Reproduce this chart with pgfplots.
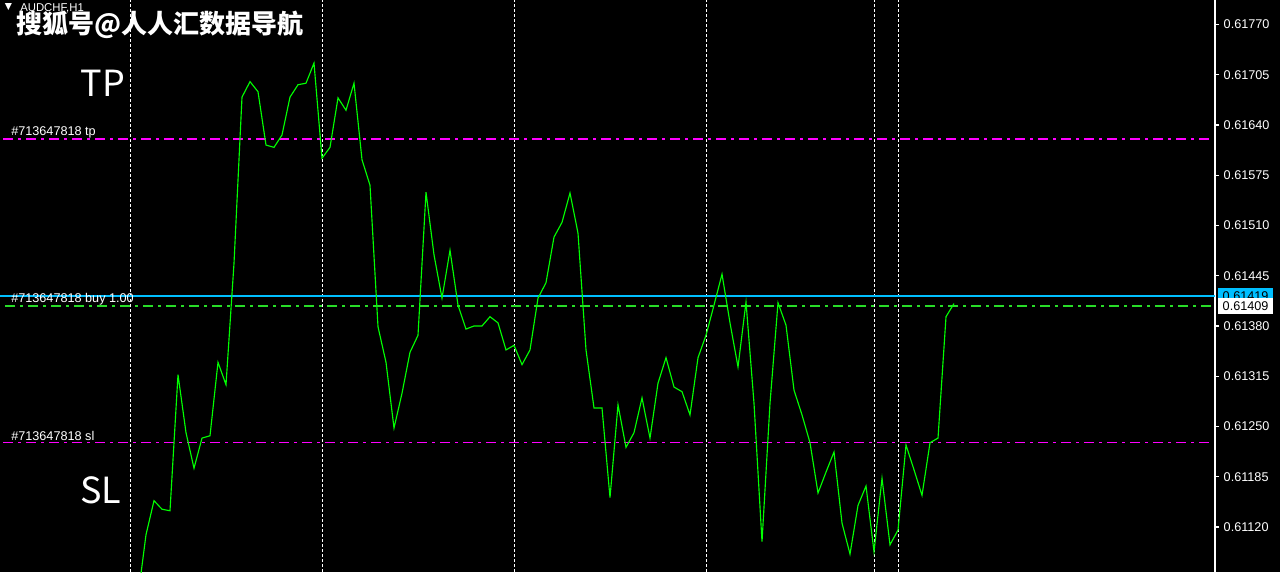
\documentclass[border=0pt]{standalone}
\usepackage{pgfplots}
\pgfplotsset{compat=1.18}
\usepackage{fontspec}
\setmainfont{Liberation Sans}
\newfontfamily\cjk{Noto Sans CJK SC}
\newfontfamily\dejavu{DejaVu Sans}
\definecolor{mtgreen}{RGB}{0,255,0}
\definecolor{tpmag}{RGB}{255,0,255}
\definecolor{askblue}{RGB}{0,191,255}
\definecolor{bidgreen}{RGB}{40,220,40}
\begin{document}
\begin{tikzpicture}
\useasboundingbox (0,0) rectangle (960pt,429pt);
\fill[black] (0,0) rectangle (960pt,429pt);
\begin{axis}[
  scale only axis, width=911.25pt, height=429pt,
  at={(0,0)}, anchor=south west,
  xmin=0, xmax=1215, ymin=0.610618, ymax=0.618016,
  axis x line=none, axis y line=right,
  axis line style={-},
  y axis line style={-, white, line width=0.9pt},
  ytick={0.61120,0.61185,0.61250,0.61315,0.61380,0.61445,0.61510,0.61575,0.61640,0.61705,0.61770},
  yticklabel style={text=white, font=\fontsize{9.5}{10}\selectfont,
    /pgf/number format/fixed, /pgf/number format/fixed zerofill,
    /pgf/number format/precision=5, /pgf/number format/assume math mode=true},
  ytick style={white, line width=0.9pt},
  ytick align=outside, major tick length=3pt,
  clip mode=individual,
]
% period separators
\addplot[white, line width=0.75pt, dash pattern=on 2.25pt off 1.5pt] coordinates {(130,0.610618) (130,0.618016)};
\addplot[white, line width=0.75pt, dash pattern=on 2.25pt off 1.5pt] coordinates {(322,0.610618) (322,0.618016)};
\addplot[white, line width=0.75pt, dash pattern=on 2.25pt off 1.5pt] coordinates {(514,0.610618) (514,0.618016)};
\addplot[white, line width=0.75pt, dash pattern=on 2.25pt off 1.5pt] coordinates {(706,0.610618) (706,0.618016)};
\addplot[white, line width=0.75pt, dash pattern=on 2.25pt off 1.5pt] coordinates {(874,0.610618) (874,0.618016)};
\addplot[white, line width=0.75pt, dash pattern=on 2.25pt off 1.5pt] coordinates {(898,0.610618) (898,0.618016)};
% order lines
\addplot[tpmag, line width=1pt, dash pattern=on 7.5pt off 3.75pt on 2.25pt off 3.75pt] coordinates {(3,0.61622) (1212,0.61622)};
\addplot[tpmag, line width=1pt, dash pattern=on 7.5pt off 3.75pt on 2.25pt off 3.75pt] coordinates {(3,0.61229) (1212,0.61229)};
\addplot[askblue, line width=1.1pt] coordinates {(0,0.61419) (1215,0.61419)};
\addplot[bidgreen, line width=1.1pt, dash pattern=on 7.5pt off 3.75pt on 2.25pt off 3.75pt] coordinates {(5,0.61406) (1212,0.61406)};
% price line
\addplot[mtgreen, line width=0.85pt] coordinates {
(140,0.61050) (146,0.61110) (154,0.61154) (162,0.61143) (170,0.61141) (178,0.61317)
(186,0.61242) (194,0.61196) (202,0.61235) (210,0.61238) (218,0.61333) (226,0.61304)
(234,0.61461) (242,0.61676) (250,0.61696) (258,0.61683) (266,0.61614) (274,0.61611)
(282,0.61627) (290,0.61676) (298,0.61692) (306,0.61694) (314,0.61720) (322,0.61597)
(330,0.61611) (338,0.61675) (346,0.61659) (354,0.61694) (362,0.61595) (370,0.61562)
(378,0.61379) (386,0.61333) (394,0.61248) (402,0.61293) (410,0.61346) (418,0.61368)
(426,0.61553) (434,0.61472) (442,0.61416) (450,0.61478) (458,0.61407) (466,0.61376)
(474,0.61380) (482,0.61380) (490,0.61392) (498,0.61384) (506,0.61349) (514,0.61355)
(522,0.61330) (530,0.61349) (538,0.61416) (546,0.61436) (554,0.61495) (562,0.61514)
(570,0.61552) (578,0.61500) (586,0.61349) (594,0.61274) (602,0.61274) (610,0.61158)
(618,0.61278) (626,0.61223) (634,0.61242) (642,0.61287) (650,0.61235) (658,0.61306)
(666,0.61339) (674,0.61301) (682,0.61295) (690,0.61265) (698,0.61339) (706,0.61368)
(714,0.61407) (722,0.61447) (730,0.61384) (738,0.61327) (746,0.61411) (754,0.61280)
(762,0.61101) (770,0.61280) (778,0.61410) (786,0.61381) (794,0.61297) (802,0.61265)
(810,0.61229) (818,0.61164) (826,0.61191) (834,0.61217) (842,0.61125) (850,0.61085)
(858,0.61148) (866,0.61173) (874,0.61088) (882,0.61183) (890,0.61097) (898,0.61116)
(906,0.61226) (914,0.61194) (922,0.61161) (930,0.61229) (938,0.61235) (946,0.61392)
(954,0.61409)};
% labels
\node[anchor=west, text=white, inner sep=0pt, font=\fontsize{8.5}{9}\selectfont] at (axis cs:20,0.61791) {AUDCHF,H1};
\node[text=white, inner sep=0pt, font=\dejavu\fontsize{7}{7}\selectfont] at (axis cs:8.5,0.61792) {▼};
\node[anchor=west, text=white, inner sep=0pt, font=\cjk\bfseries\fontsize{19.5}{20}\selectfont] at (axis cs:16,0.61770) {搜狐号@人人汇数据导航};
\node[text=white, inner sep=0pt, font=\cjk\fontsize{27}{28}\selectfont] at (axis cs:103,0.61694) {TP};
\node[text=white, inner sep=0pt, font=\cjk\fontsize{27}{28}\selectfont] at (axis cs:101,0.61168) {SL};
\node[anchor=west, text=white, inner sep=0pt, font=\fontsize{9.5}{10}\selectfont] at (axis cs:11,0.61631) {\#713647818 tp};
\node[anchor=west, text=white, inner sep=0pt, font=\fontsize{9.5}{10}\selectfont] at (axis cs:11,0.61415) {\#713647818 buy 1.00};
\node[anchor=west, text=white, inner sep=0pt, font=\fontsize{9.5}{10}\selectfont] at (axis cs:11,0.61238) {\#713647818 sl};
% price boxes
\node[anchor=west, fill=askblue, text=black, inner sep=0pt, minimum width=41pt, minimum height=12pt, font=\fontsize{9.5}{10}\selectfont] at (axis cs:1218,0.61419) {0.61419};
\node[anchor=west, fill=white, text=black, inner sep=0pt, minimum width=41pt, minimum height=12pt, font=\fontsize{9.5}{10}\selectfont] at (axis cs:1218,0.61406) {0.61409};
\end{axis}
\end{tikzpicture}
\end{document}
